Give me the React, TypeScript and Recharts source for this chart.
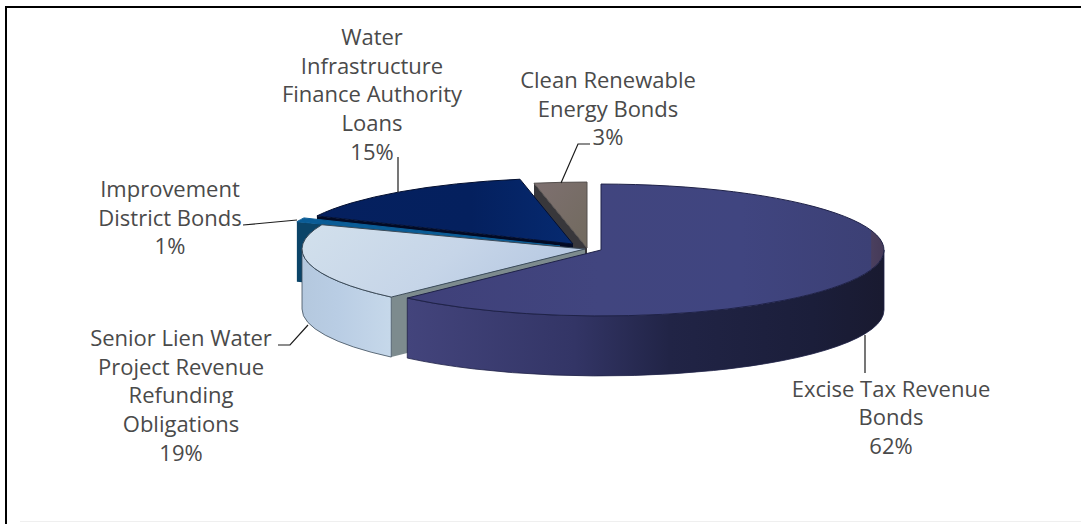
import React from "react";
import { Pie, PieChart } from "recharts";

// Listed back to front, because sectors paint in data order.
const categories = [
  "Clean Renewable Energy Bonds",
  "Water Infrastructure Finance Authority Loans",
  "Improvement District Bonds",
  "Senior Lien Water Project Revenue Refunding Obligations",
  "Excise Tax Revenue Bonds",
];
const shares = [3, 15, 1, 19, 62];
const labelRows = [
  ["Clean Renewable", "Energy Bonds"],
  ["Water", "Infrastructure", "Finance Authority", "Loans"],
  ["Improvement", "District Bonds"],
  ["Senior Lien Water", "Project Revenue", "Refunding", "Obligations"],
  ["Excise Tax Revenue", "Bonds"],
];

const tableData = categories.map((name, i) => ({ name, value: shares[i] }));

const TILT = 0.233;
const DEPTH = 60;
const LINE_HEIGHT = 28.7;

// Explosion offset of each slice from the pie centre.
const explode = [
  { x: 2, y: 0 },
  { x: -12, y: -4 },
  { x: -25, y: -2 },
  { x: 0, y: 1 },
  { x: 16, y: 2 },
];

const sliceFills = [
  { top: "url(#cleanTop)", wall: "#5d5552", cut: "#38373b", stroke: "#55504e" },
  { top: "url(#wifaTop)", wall: "#04184f", cut: "#020a24", stroke: "#030f30" },
  { top: "#0a5c96", wall: "#0d3f63", cut: "#0b4468", stroke: "#0a5c96" },
  { top: "url(#seniorTop)", wall: "url(#seniorWall)", cut: "#7d8b8e", stroke: "#3d4c5a" },
  { top: "url(#exciseTop)", wall: "url(#exciseWall)", cut: "#2b2e58", stroke: "#1f2248" },
];

const labelAnchors = [
  { x: 608, y: 88 },
  { x: 372, y: 45 },
  { x: 170, y: 197 },
  { x: 181, y: 346 },
  { x: 891, y: 396.5 },
];

const leaders = [
  "561,183 578,144 590,144",
  "398,157 398,192",
  "243,225 297,220",
  "278,345 290,345 308,325",
  "865,335 865,373",
];

const point = (cx: number, cy: number, rx: number, angle: number) => {
  const rad = (angle * Math.PI) / 180;
  return { x: cx + rx * Math.cos(rad), y: cy - rx * TILT * Math.sin(rad) };
};

// Projects a sector onto a tilted disc and gives it a cut face, rim and top.
function renderSlice(props: any) {
  const { cx, cy, outerRadius: rx, startAngle, endAngle, name } = props;
  const idx = categories.indexOf(name);
  const fills = sliceFills[idx];
  const ox = cx + explode[idx].x;
  const oy = cy + explode[idx].y;
  const ry = rx * TILT;
  const a = point(ox, oy, rx, startAngle);
  const b = point(ox, oy, rx, endAngle);
  const large = endAngle - startAngle > 180 ? 1 : 0;
  const top = `M${ox},${oy} L${a.x},${a.y} A${rx},${ry} 0 ${large} 0 ${b.x},${b.y} Z`;
  const cut = `M${ox},${oy} L${b.x},${b.y} L${b.x},${b.y + DEPTH} L${ox},${oy + DEPTH} Z`;

  // Only the part of the rim on the near half of the ellipse can be seen.
  const rimFrom = Math.max(startAngle, 180);
  const rimTo = Math.min(endAngle, 360);
  let rim = null;
  if (rimTo > rimFrom) {
    const p = point(ox, oy, rx, rimFrom);
    const q = point(ox, oy, rx, rimTo);
    const rimLarge = rimTo - rimFrom > 180 ? 1 : 0;
    rim = (
      <path
        d={`M${p.x},${p.y} A${rx},${ry} 0 ${rimLarge} 0 ${q.x},${q.y} L${q.x},${q.y + DEPTH} A${rx},${ry} 0 ${rimLarge} 1 ${p.x},${p.y + DEPTH} Z`}
        fill={fills.wall}
        stroke={fills.stroke}
        strokeWidth={0.8}
      />
    );
  }

  return (
    <g>
      <path d={cut} fill={fills.cut} />
      {rim}
      <path d={top} fill={fills.top} stroke={fills.stroke} strokeWidth={1} />
    </g>
  );
}

function renderLabel(props: any) {
  const { name, percent } = props;
  const idx = categories.indexOf(name);
  const rows = [...labelRows[idx], `${Math.round(percent * 100)}%`];
  return (
    <g key={name}>
      <polyline points={leaders[idx]} fill="none" stroke="#1c1c1c" strokeWidth={1.2} />
      <text
        x={labelAnchors[idx].x}
        y={labelAnchors[idx].y}
        textAnchor="middle"
        fontFamily="'Open Sans', sans-serif"
        fontSize={22}
        fill="#4a4a4a"
      >
        {rows.map((row, r) => (
          <tspan key={r} x={labelAnchors[idx].x} dy={r === 0 ? 0 : LINE_HEIGHT}>
            {row}
          </tspan>
        ))}
      </text>
    </g>
  );
}

export default function App() {
  return (
    <div style={{ position: "absolute", left: 0, top: 0, width: 1081, height: 524, background: "#ffffff", overflow: "hidden" }}>
      <div style={{ position: "absolute", left: 5, top: 6, right: 0, height: 2, background: "#000000" }} />
      <div style={{ position: "absolute", left: 5, top: 6, bottom: 0, width: 2, background: "#000000" }} />
      <div style={{ position: "absolute", left: 20, right: 0, top: 521, height: 1, background: "#efefef" }} />
      <PieChart width={1081} height={524} margin={{ top: 0, right: 0, bottom: 0, left: 0 }}>
        <defs>
          <linearGradient id="exciseTop" x1="0" y1="0" x2="1" y2="0">
            <stop offset="0" stopColor="#3f4079" />
            <stop offset="0.4" stopColor="#41457f" />
            <stop offset="0.7" stopColor="#404580" />
            <stop offset="0.973" stopColor="#3c4075" />
            <stop offset="0.974" stopColor="#4a3f5e" />
            <stop offset="1" stopColor="#453a58" />
          </linearGradient>
          <linearGradient id="exciseWall" x1="0" y1="0" x2="1" y2="0">
            <stop offset="0" stopColor="#43447c" />
            <stop offset="0.35" stopColor="#333566" />
            <stop offset="0.55" stopColor="#212446" />
            <stop offset="0.85" stopColor="#1b1e3a" />
            <stop offset="1" stopColor="#191a30" />
          </linearGradient>
          <linearGradient id="seniorTop" x1="0" y1="0" x2="1" y2="0.3">
            <stop offset="0" stopColor="#d2e0ec" />
            <stop offset="0.6" stopColor="#c6d5e8" />
            <stop offset="1" stopColor="#b7c9e2" />
          </linearGradient>
          <linearGradient id="seniorWall" x1="0" y1="0" x2="1" y2="0">
            <stop offset="0" stopColor="#b4c8de" />
            <stop offset="0.4" stopColor="#b9cde4" />
            <stop offset="1" stopColor="#c6d8ea" />
          </linearGradient>
          <linearGradient id="wifaTop" x1="0" y1="0" x2="1" y2="0">
            <stop offset="0" stopColor="#05205f" />
            <stop offset="0.6" stopColor="#04205e" />
            <stop offset="1" stopColor="#062a70" />
          </linearGradient>
          <linearGradient id="cleanTop" x1="0" y1="0" x2="1" y2="1">
            <stop offset="0" stopColor="#7e7070" />
            <stop offset="1" stopColor="#716a5e" />
          </linearGradient>
        </defs>
        <Pie
          data={tableData}
          dataKey="value"
          nameKey="name"
          cx={585}
          cy={248}
          outerRadius={283}
          startAngle={90}
          endAngle={450}
          paddingAngle={0}
          stroke="none"
          shape={renderSlice}
          label={renderLabel}
          labelLine={false}
          isAnimationActive={false}
        />
      </PieChart>
    </div>
  );
}
